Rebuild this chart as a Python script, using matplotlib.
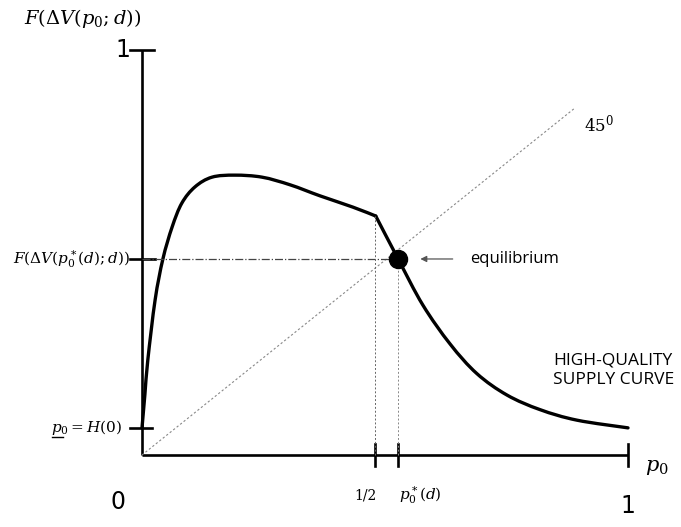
import numpy as np
import matplotlib.pyplot as plt
from matplotlib.path import Path
from matplotlib.patches import PathPatch

plt.rcParams['mathtext.fontset'] = 'dejavuserif'

# supply curve (x = p0, y = F); the kink is at index 14
p0 = [0.0, 0.006, 0.012, 0.027, 0.043, 0.062, 0.082, 0.109, 0.144, 0.191,
      0.247, 0.305, 0.366, 0.434, 0.481, 0.527, 0.578, 0.634, 0.689, 0.751,
      0.819, 0.895, 1.0]
F = [0.067, 0.15, 0.235, 0.383, 0.484, 0.563, 0.622, 0.662, 0.686, 0.691,
     0.686, 0.667, 0.640, 0.612, 0.590, 0.484, 0.370, 0.274, 0.201, 0.148,
     0.112, 0.086, 0.067]
kink = 14

half = 0.479        # where "1/2" sits on the axis
p_star = 0.527      # equilibrium p0*
F_star = 0.484      # equilibrium F
H0 = 0.067          # p0 = H(0)
diag_end = (0.891, 0.857)


def smooth_path(xs, ys):
    # catmull-rom through the points, drawn as cubic bezier pieces
    pts = np.column_stack([xs, ys])
    verts = [pts[0]]
    codes = [Path.MOVETO]
    n = len(pts)
    for i in range(n - 1):
        p_prev = pts[i - 1] if i > 0 else pts[i]
        p_next = pts[i + 2] if i + 2 < n else pts[i + 1]
        c1 = pts[i] + (pts[i + 1] - p_prev) / 6
        c2 = pts[i + 1] - (p_next - pts[i]) / 6
        verts += [c1, c2, pts[i + 1]]
        codes += [Path.CURVE4] * 3
    return Path(verts, codes)


fig = plt.figure(figsize=(6.81, 5.27), dpi=100)
ax = fig.add_axes([0, 0, 1, 1])
ax.set_xlim(-142 / 486, 539 / 486)
ax.set_ylim(-72 / 405, 455 / 405)
ax.axis('off')

# axes
ax.plot([0, 0], [0, 1], color='black', lw=1.9, solid_capstyle='butt')
ax.plot([0, 1], [0, 0], color='black', lw=1.9, solid_capstyle='butt')
tx = 12 / 486
ty = 11 / 405
ax.plot([-tx, tx], [1, 1], color='black', lw=1.9)
ax.plot([1, 1], [-ty, ty], color='black', lw=1.9)
ax.plot([-tx, 0.027], [F_star, F_star], color='black', lw=1.9)
ax.plot([-tx, 0.02], [H0, H0], color='black', lw=1.9)
for xv in [half, p_star]:
    ax.plot([xv, xv], [-ty, ty], color='black', lw=1.9)

# 45 degree line
ax.plot([0, diag_end[0]], [0, diag_end[1]], color='#888888', lw=0.8, ls=(0, (2, 2)))

# guide lines
ax.plot([0, p_star], [F_star, F_star], color='#444444', lw=0.9, ls='-.')
ax.plot([half, half], [0, F[kink]], color='#666666', lw=0.7, ls=(0, (2, 2)))
ax.plot([p_star, p_star], [0, F_star], color='#888888', lw=0.7, ls=(0, (2, 2)))

# supply curve, two smooth pieces meeting at the kink
for xs, ys in [(p0[:kink + 1], F[:kink + 1]), (p0[kink:], F[kink:])]:
    ax.add_patch(PathPatch(smooth_path(xs, ys), fill=False, edgecolor='black', lw=2.4,
                           capstyle='round', joinstyle='round'))
ax.plot([p_star], [F_star], 'o', color='black', ms=13)

# labels
ax.text(-118 / 486, 1.077, r'$F(\Delta V(p_0;d))$', fontsize=14, ha='left', va='center')
ax.text(-0.025, 1.0, '1', fontsize=17, ha='right', va='center')
ax.text(-0.025, F_star, r'$F(\Delta V(p_0^*(d);d))$', fontsize=11, ha='right', va='center')
ax.text(-0.04, H0, r'$p_0 = H(0)$', fontsize=11, ha='right', va='center')
ax.plot([-0.185, -0.163], [0.044, 0.044], color='black', lw=1.0)
ax.text(-0.05, -0.115, '0', fontsize=17, ha='center', va='center')
ax.text(1.0, -0.125, '1', fontsize=17, ha='center', va='center')
ax.text(1.06, -0.03, r'$p_0$', fontsize=15, ha='center', va='center')
ax.text(half - 0.02, -0.10, '1/2', fontsize=10, ha='center', va='center', family='DejaVu Serif')
ax.text(p_star + 0.045, -0.10, r'$p_0^*(d)$', fontsize=11, ha='center', va='center')
ax.text(0.91, 0.815, r'$45^0$', fontsize=12, ha='left', va='center')

ax.annotate('', xy=(0.567, F_star), xytext=(0.645, F_star),
            arrowprops=dict(arrowstyle='-|>', color='#555555', lw=0.9, mutation_scale=9))
ax.text(0.675, F_star, 'equilibrium', fontsize=12, ha='left', va='center', family='Open Sans')
ax.text(0.846, 0.21, 'HIGH-QUALITY\nSUPPLY CURVE', fontsize=12.5, ha='left', va='center',
        family='Open Sans', linespacing=1.3)

fig.savefig('out.png', dpi=100)
